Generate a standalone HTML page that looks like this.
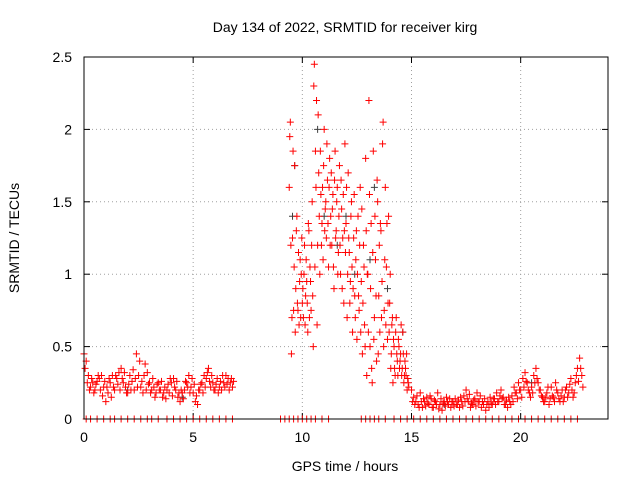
<!DOCTYPE html>
<html><head><meta charset="utf-8"><style>
html,body{margin:0;padding:0;background:#fff;}
svg{display:block;font-family:"Liberation Sans",sans-serif;}
</style></head><body>
<svg id="chart" width="640" height="480" viewBox="0 0 640 480">
<rect width="640" height="480" fill="#fff"/>
<text x="345" y="32" font-size="14" text-anchor="middle">Day 134 of 2022, SRMTID for receiver kirg</text>
<text x="345" y="471" font-size="14" text-anchor="middle">GPS time / hours</text>
<text transform="translate(19,238) rotate(-90)" font-size="14" text-anchor="middle">SRMTID / TECUs</text>
<g id="grid"></g>
<g id="ticks"></g>
<g id="marks"></g>
<rect x="84" y="57" width="524" height="362" fill="none" stroke="#000" stroke-width="1"/>
</svg>
<script>
const xTicks = [0,5,10,15,20];
const yTicks = [0,0.5,1,1.5,2,2.5];
const yTickLabels = ["0","0.5","1","1.5","2","2.5"];
const seg1Start = 0.0, seg1Step = 0.1;
const seg1Values = [0.45,0.40,0.30,0.22,0.25,0.20,0.26,0.28,0.30,0.22,0.12,0.18,0.25,0.30,0.20,0.28,0.32,0.35,0.25,0.22,0.18,0.30,0.26,0.20,0.45,0.30,0.22,0.18,0.38,0.32,0.25,0.20,0.22,0.18,0.25,0.20,0.15,0.22,0.20,0.18,0.25,0.28,0.20,0.15,0.12,0.18,0.20,0.25,0.30,0.22,0.18,0.12,0.10,0.20,0.25,0.30,0.28,0.35,0.22,0.25,0.20,0.28,0.22,0.20,0.25,0.30,0.28,0.25,0.22];
const seg1ValuesB = [0.35,0.25,0.20,0.28,0.18,0.24,0.30,0.20,0.16,0.26,0.22,0.28,0.15,0.22,0.30,0.24,0.20,0.28,0.32,0.18,0.24,0.20,0.34,0.28,0.22,0.40,0.26,0.30,0.20,0.24,0.18,0.28,0.15,0.24,0.20,0.26,0.18,0.14,0.24,0.28,0.16,0.22,0.26,0.18,0.20,0.14,0.26,0.22,0.18,0.28,0.24,0.16,0.20,0.24,0.18,0.22,0.32,0.26,0.30,0.20,0.24,0.18,0.26,0.30,0.22,0.24,0.20,0.28,0.26];
const seg2Start = 9.4, seg2Step = 0.05;
const seg2Values = [1.60,2.05,0.45,1.25,0.75,1.75,0.90,1.40,0.75,0.65,1.10,1.00,0.80,0.70,1.20,0.85,0.95,0.60,1.30,1.05,0.75,1.50,0.50,2.45,1.85,2.20,1.20,1.70,1.00,1.55,1.35,1.10,2.00,1.45,1.25,1.65,1.05,1.80,1.40,1.20,1.55,0.90,1.85,1.30,1.60,1.15,1.75,1.00,1.45,1.25,0.80,1.90,1.35,0.70,1.70,1.15,0.95,1.50,0.60,1.25,0.85,1.10,0.55,1.40,0.75,1.60,0.95,0.45,1.20,0.65,1.80,0.30,1.00,2.20,0.50,1.35,0.25,1.85,0.70,1.10,0.40,1.50,0.85,0.60,1.30,0.95,2.05,0.75,1.60,1.05,0.55,1.40,0.80,0.35,0.65,0.25,0.50,0.30,0.70,0.40,0.55,0.35,0.45,0.30,0.60,0.25,0.40,0.30,0.20,0.25];
const seg2ValuesB = [1.95,1.20,0.70,1.85,1.05,0.60,1.30,0.80,1.15,0.95,0.70,1.25,0.90,1.00,0.65,1.10,0.80,1.35,0.70,0.95,1.20,0.85,2.30,1.05,1.60,0.65,2.10,1.40,1.85,1.20,1.60,1.75,1.30,1.50,1.90,1.35,1.60,1.20,1.70,1.45,1.05,1.65,1.25,1.50,1.00,1.40,1.20,1.65,0.90,1.55,1.30,1.15,1.60,1.00,1.25,0.80,1.40,1.05,0.90,1.55,0.70,1.30,1.00,0.85,1.20,0.60,1.45,0.80,1.05,0.50,1.30,1.00,0.60,1.55,0.90,0.35,1.15,0.55,1.40,0.85,1.65,0.45,1.20,1.35,0.70,1.90,0.50,1.10,0.65,1.35,0.80,0.60,1.00,0.45,0.70,0.55,0.35,0.60,0.45,0.30,0.50,0.40,0.65,0.35,0.45,0.30,0.35,0.45,0.28,0.22];
const seg3Start = 15.0, seg3Step = 0.1;
const seg3Values = [0.20,0.15,0.12,0.10,0.18,0.08,0.12,0.15,0.10,0.14,0.08,0.12,0.18,0.10,0.06,0.12,0.15,0.10,0.08,0.12,0.14,0.10,0.08,0.12,0.16,0.20,0.12,0.08,0.10,0.14,0.18,0.12,0.08,0.10,0.06,0.12,0.15,0.10,0.14,0.18,0.12,0.20,0.15,0.10,0.08,0.12,0.16,0.22,0.18,0.25,0.20,0.28,0.32,0.25,0.18,0.22,0.30,0.35,0.25,0.20,0.15,0.12,0.18,0.10,0.22,0.15,0.25,0.18,0.12,0.20,0.15,0.22,0.18,0.28,0.15,0.25,0.35,0.42,0.30];
const seg3ValuesB = [0.12,0.10,0.16,0.08,0.12,0.14,0.09,0.11,0.16,0.08,0.13,0.10,0.07,0.14,0.11,0.09,0.12,0.14,0.12,0.09,0.10,0.13,0.15,0.09,0.12,0.14,0.17,0.11,0.13,0.09,0.12,0.16,0.12,0.14,0.10,0.08,0.11,0.14,0.10,0.12,0.16,0.14,0.10,0.13,0.15,0.10,0.12,0.18,0.14,0.20,0.15,0.22,0.26,0.20,0.15,0.18,0.25,0.28,0.20,0.16,0.12,0.15,0.22,0.14,0.16,0.12,0.20,0.14,0.16,0.12,0.20,0.15,0.24,0.20,0.18,0.30,0.26,0.35,0.22];
const zeroTimes = [0.1,0.3,0.6,0.9,1.2,1.4,1.7,2.0,2.3,2.6,2.9,3.1,3.4,3.8,4.1,4.4,4.7,5.0,5.3,5.6,5.9,6.2,6.5,6.8,9.0,9.2,9.4,9.6,9.8,10.0,10.2,10.4,10.6,10.9,11.2,12.7,12.9,13.1,13.3,13.5,13.8,14.2,14.5,14.8,15.1,15.4,15.7,16.0,16.3,16.6,16.9,17.2,17.5,17.8,18.1,18.4,18.7,19.0,19.3,19.6,19.9,20.2,20.5,20.8,21.1,21.4,21.7,22.0,22.3,22.6];
const grayTimes = [9.55,9.65,10.7,11.0,11.6,12.0,12.4,13.1,13.3,13.9,14.6,2.0,4.5,16.5,20.5];
const grayValues = [1.40,1.75,2.00,1.40,1.20,1.40,1.00,1.10,1.60,0.90,0.60,0.20,0.15,0.10,0.25];

const X0=84, X1=608, Y0=419, Y1=57;
const xs = t => X0 + (t/24)*(X1-X0);
const ys = v => Y0 - (v/2.5)*(Y0-Y1);
const NS='http://www.w3.org/2000/svg';
const grid=document.getElementById('grid'), ticks=document.getElementById('ticks'), marks=document.getElementById('marks');
function mk(tag, attrs, parent){const e=document.createElementNS(NS,tag);for(const k in attrs)e.setAttribute(k,attrs[k]);parent.appendChild(e);return e;}
xTicks.forEach(t=>{
  const x=xs(t);
  if(t>0){const g=mk('line',{x1:x,x2:x,y1:Y0,y2:Y1,stroke:'#a0a0a0','stroke-dasharray':'1,3'},grid);
  
  }
  mk('line',{x1:x,x2:x,y1:Y0,y2:Y0-6,stroke:'#000'},ticks);
  mk('line',{x1:x,x2:x,y1:Y1,y2:Y1+6,stroke:'#000'},ticks);
  const l=mk('text',{x:x,y:Y0+23,'font-size':14,'text-anchor':'middle'},ticks);
  l.textContent=String(t);
  
  
});
yTicks.forEach((v,i)=>{
  const y=ys(v);
  if(v>0&&v<2.5){const g=mk('line',{x1:X0,x2:X1,y1:y,y2:y,stroke:'#a0a0a0','stroke-dasharray':'1,3'},grid);
  
  }
  mk('line',{x1:X0,x2:X0+6,y1:y,y2:y,stroke:'#000'},ticks);
  mk('line',{x1:X1,x2:X1-6,y1:y,y2:y,stroke:'#000'},ticks);
  const l=mk('text',{x:X0-12,y:y+5,'font-size':14,'text-anchor':'end'},ticks);
  l.textContent=yTickLabels[i];
  
  
});
function cross(t,v,color,name){
  const x=xs(t), y=ys(v);
  const p=mk('path',{d:`M${x-3.5},${y}h7M${x},${y-3.5}v7`,stroke:color,'stroke-width':1,fill:'none'},marks);
  
  
}
grayTimes.forEach((t,i)=>cross(t,grayValues[i],'#404040','gray-point'));
[[seg1Start,seg1Step,seg1Values],[seg1Start+0.05,seg1Step,seg1ValuesB],[seg2Start,seg2Step,seg2Values],[seg2Start+0.025,seg2Step,seg2ValuesB],[seg3Start,seg3Step,seg3Values],[seg3Start+0.05,seg3Step,seg3ValuesB]].forEach(([s,st,vals])=>{
  vals.forEach((v,i)=>cross(s+i*st,v,'#ff0000','srmtid-point'));
});
zeroTimes.forEach(t=>cross(t,0,'#ff0000','zero-point'));
</script>
</body></html>
